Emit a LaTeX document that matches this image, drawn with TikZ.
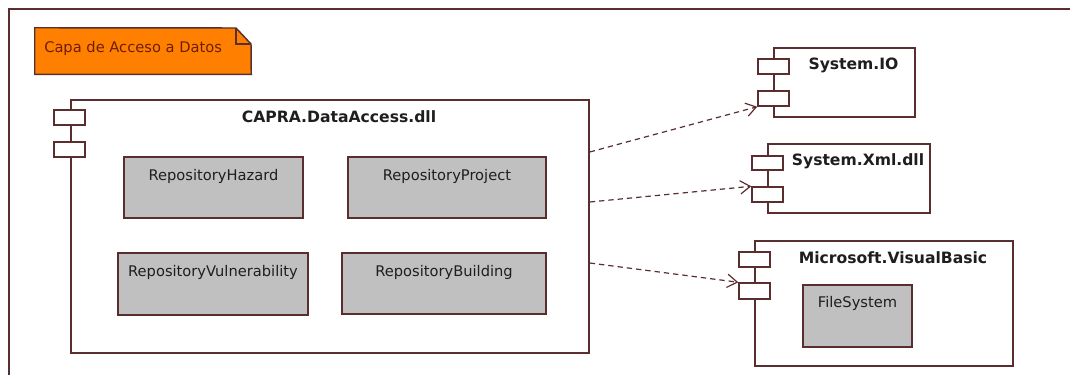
\documentclass[tikz,border=0pt]{standalone}
\usepackage{fontspec}
\setmainfont{DejaVu Sans}
\usetikzlibrary{arrows.meta,fit,calc}
\definecolor{edge}{HTML}{5A2E2E}
\definecolor{repofill}{HTML}{C0C0C0}
\definecolor{notefill}{HTML}{FF8000}
\definecolor{notetext}{HTML}{6E1E00}
\definecolor{ink}{HTML}{1E1E1E}
\begin{document}
\begin{tikzpicture}[x=0.75pt,y=-0.75pt,
  frame/.style={draw=edge, line width=1.1pt},
  comp/.style={draw=edge, line width=1.1pt, fill=white, inner sep=0pt},
  port/.style={draw=edge, line width=1.1pt, fill=white, inner sep=0pt},
  repo/.style={draw=edge, line width=1.1pt, fill=repofill, inner sep=0pt},
  repotext/.style={font=\fontsize{11}{13}\selectfont, text=ink, inner sep=0pt},
  title/.style={font=\bfseries\fontsize{11.7}{14}\selectfont, text=ink, inner sep=0pt},
  dep/.style={draw=edge, line width=0.9pt, dash pattern=on 4pt off 3pt,
    -{Straight Barb[length=7.5pt,width=10pt]}}
]
\useasboundingbox (0,0) rectangle (1070,375);
\fill[white] (0,0) rectangle (1070,375);

% package frame
\draw[frame] (1070,9) -- (9,9) -- (9,375);

% note with folded corner
\node[inner sep=0pt, fit={(35,28)(251,74)}] (note) {};
\draw[frame, fill=notefill] (note.north west) -- (236,28) -- (251,44)
  -- (note.south east) -- (note.south west) -- cycle;
\draw[frame] (236,28) -- (236,44) -- (251,44);
\node[repotext, text=notetext, anchor=west] (notelbl) at (44,48) {Capa de Acceso a Datos};

% CAPRA.DataAccess.dll component
\node[comp, fit={(71,100)(589,353)}] (capra) {};
\node[port, fit={(54,110)(85,125)}] (capra1) {};
\node[port, fit={(54,142)(85,157)}] (capra2) {};
\node[title] (capralbl) at ($(capra.north)+(9,17.5)$) {CAPRA.DataAccess.dll};

\node[repo, fit={(124,157)(303,218)}] (hazard) {};
\node[repo, fit={(348,157)(546,218)}] (project) {};
\node[repo, fit={(118,253)(308,315)}] (vuln) {};
\node[repo, fit={(342,253)(546,314)}] (building) {};
\node[repotext] (hazardlbl) at ($(hazard.north)+(0,20)$) {RepositoryHazard};
\node[repotext] (projectlbl) at ($(project.north)+(0,20)$) {RepositoryProject};
\node[repotext] (vulnlbl) at ($(vuln.north)+(0,20)$) {RepositoryVulnerability};
\node[repotext] (buildinglbl) at ($(building.north)+(0,20)$) {RepositoryBuilding};

% System.IO
\node[comp, fit={(774,48)(915,117)}] (io) {};
\node[port, fit={(758,59)(789,74)}] (io1) {};
\node[port, fit={(758,91)(789,106)}] (io2) {};
\node[title] (iolbl) at ($(io.north)+(9,18)$) {System.IO};

% System.Xml.dll
\node[comp, fit={(768,144)(930,213)}] (xml) {};
\node[port, fit={(752,156)(783,170)}] (xml1) {};
\node[port, fit={(752,187)(783,202)}] (xml2) {};
\node[title] (xmllbl) at ($(xml.north)+(9,18)$) {System.Xml.dll};

% Microsoft.VisualBasic
\node[comp, fit={(755,241)(1013,366)}] (vb) {};
\node[port, fit={(739,252)(770,267)}] (vb1) {};
\node[port, fit={(739,283)(770,299)}] (vb2) {};
\node[title] (vblbl) at ($(vb.north)+(9,17.5)$) {Microsoft.VisualBasic};
\node[repo, fit={(803,285)(912,347)}] (fs) {};
\node[repotext] (fslbl) at ($(fs.north)+(0,19)$) {FileSystem};

% dependencies
\draw[dep] (capra.east |- 0,152) -- (io2.south west);
\draw[dep] (capra.east |- 0,202) -- (xml2.north west);
\draw[dep] (capra.east |- 0,263) -- (vb2.north west);
\end{tikzpicture}
\end{document}
